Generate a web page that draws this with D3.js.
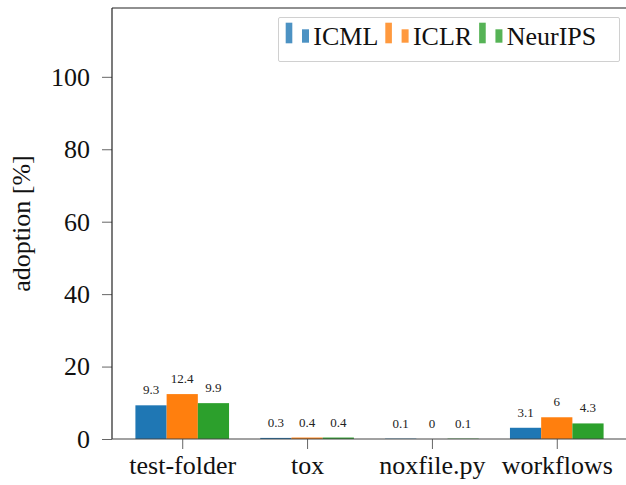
<!DOCTYPE html>
<html><head><meta charset="utf-8">
<script src="https://cdn.jsdelivr.net/npm/d3@7"></script>
<style>body{margin:0;background:#fff}svg{display:block}</style>
</head><body>
<script>
const categories = ["test-folder", "tox", "noxfile.py", "workflows"];
const seriesNames = ["ICML", "ICLR", "NeurIPS"];
const icml = [9.3, 0.3, 0.1, 3.1];
const iclr = [12.4, 0.4, 0, 6];
const neurips = [9.9, 0.4, 0.1, 4.3];
const yTicks = [0, 20, 40, 60, 80, 100];
const colors = ["#1f77b4", "#ff7f0e", "#2ca02c"];
const series = [icml, iclr, neurips];
const FF = "'Liberation Serif', 'Times New Roman', Times, serif";

const W = 626, H = 485;
const L = 112, R = 627, T = 8, B = 439;
const svg = d3.select("body").append("svg").attr("width", W).attr("height", H);

const x = d3.scaleLinear().domain([-0.5625, 3.5625]).range([L, R]);
const y = d3.scaleLinear().domain([0, 119]).range([B, T]);
const bw = 0.25;

// bars
series.forEach((vals, j) => {
  svg.append("g").selectAll("rect").data(vals).join("rect")
    .attr("x", (d, i) => x(i + (j - 1) * bw - bw / 2))
    .attr("width", (d, i) => x(bw) - x(0))
    .attr("y", d => y(d))
    .attr("height", d => y(0) - y(d))
    .attr("fill", colors[j]);
  svg.append("g").selectAll("text").data(vals).join("text")
    .attr("x", (d, i) => x(i + (j - 1) * bw))
    .attr("y", d => y(d) - 11)
    .attr("text-anchor", "middle")
    .style("font-family", FF).style("font-size", "13px")
    .attr("fill", "#222")
    .text(d => d);
});

// y axis
const yAxis = d3.axisLeft(y).tickValues(yTicks).tickSize(10).tickPadding(12);
const gy = svg.append("g").attr("transform", `translate(${L},0)`).call(yAxis);
gy.select(".domain").remove();
gy.selectAll(".tick line").attr("stroke", "#666").attr("stroke-width", 1);
gy.selectAll(".tick text").style("font-size", "26px").attr("fill", "#111").style("font-family", FF);

// x axis
const xAxis = d3.axisBottom(x).tickValues(d3.range(categories.length)).tickFormat(i => categories[i]).tickSize(10).tickPadding(7);
const gx = svg.append("g").attr("transform", `translate(0,${B})`).call(xAxis);
gx.select(".domain").remove();
gx.selectAll(".tick line").attr("stroke", "#666").attr("stroke-width", 1);
gx.selectAll(".tick text").style("font-size", "26px").attr("fill", "#111").style("font-family", FF);

// spines
svg.append("line").attr("x1", L).attr("x2", L).attr("y1", T).attr("y2", B).attr("stroke", "#222").attr("stroke-width", 1.2);
svg.append("line").attr("x1", L).attr("x2", R).attr("y1", T).attr("y2", T).attr("stroke", "#222").attr("stroke-width", 1.2);
svg.append("line").attr("x1", L).attr("x2", R).attr("y1", B).attr("y2", B).attr("stroke", "#444").attr("stroke-width", 1.2);

// y label
svg.append("text").attr("transform", `translate(30,${(T + B) / 2}) rotate(-90)`)
  .attr("text-anchor", "middle").style("font-size", "26px").style("font-family", FF).attr("fill", "#111").text("adoption [%]");

// legend
const lg = svg.append("g");
lg.append("rect").attr("x", 278.5).attr("y", 17.5).attr("width", 341).attr("height", 44)
  .attr("fill", "#fff").attr("fill-opacity", 0.8).attr("stroke", "#d0d0d0").attr("stroke-width", 1).attr("rx", 1.5);
let cx = 285.7;
seriesNames.forEach((name, j) => {
  lg.append("rect").attr("x", cx).attr("y", 22.7).attr("width", 6.6).attr("height", 20.6).attr("fill", colors[j]).attr("opacity", 0.8);
  lg.append("rect").attr("x", cx + 16.3).attr("y", 29.3).attr("width", 7).attr("height", 13.4).attr("fill", colors[j]).attr("opacity", 0.8);
  const t = lg.append("text").attr("x", cx + 27.6).attr("y", 45).style("font-size", "26px").style("font-family", FF).attr("fill", "#111").text(name);
  cx = cx + 27.6 + t.node().getComputedTextLength() + 7;
});
</script>
</body></html>
